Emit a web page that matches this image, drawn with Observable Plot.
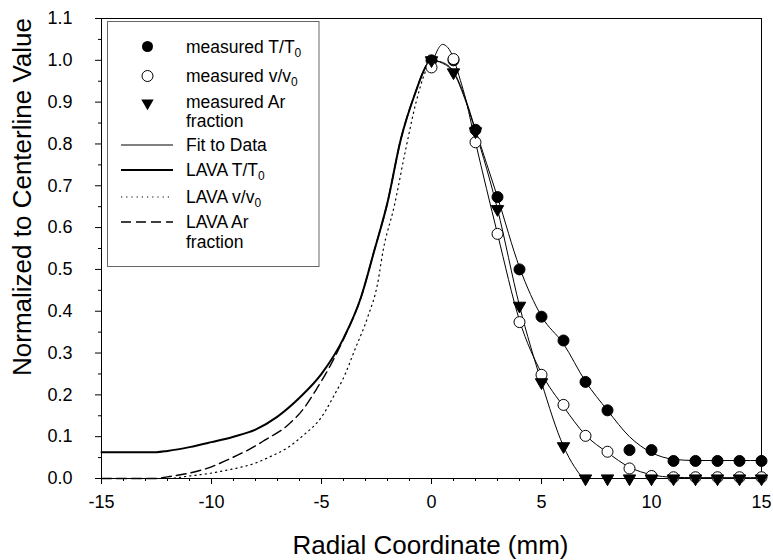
<!DOCTYPE html>
<html>
<head>
<meta charset="utf-8">
<script src="https://cdn.jsdelivr.net/npm/d3@7"></script>
<script src="https://cdn.jsdelivr.net/npm/@observablehq/plot@0.6"></script>
<style>
  html, body { margin: 0; padding: 0; background: #fff; }
  #chart { width: 773px; height: 560px; }
</style>
</head>
<body>
<div id="chart"></div>
<script>
// ---------------- data ----------------
const measX  = [0, 1, 2, 3, 4, 5, 6, 7, 8, 9, 10, 11, 12, 13, 14, 15];
const measT  = [1.0, 1.0, 0.834, 0.673, 0.50, 0.387, 0.330, 0.231, 0.163, 0.068, 0.068, 0.042, 0.042, 0.042, 0.042, 0.042];
const measV  = [0.983, 1.003, 0.804, 0.585, 0.374, 0.248, 0.176, 0.102, 0.064, 0.024, 0.006, 0.003, 0.003, 0.003, 0.003, 0.003];
const measAr = [1.0, 0.971, 0.83, 0.644, 0.413, 0.23, 0.077, 0.0, 0.0, 0.0, 0.0, 0.0, 0.0, 0.0, 0.0, 0.0];

// fits to data (thin lines)
const fitTX  = [0, 0.5, 1, 1.5, 2, 3, 4, 5, 6, 7, 8, 9, 10, 11, 12, 13, 14, 15];
const fitTY  = [1.0, 0.995, 0.973, 0.915, 0.834, 0.673, 0.505, 0.388, 0.322, 0.232, 0.163, 0.100, 0.062, 0.046, 0.043, 0.043, 0.043, 0.043];
const fitVX  = [0, 0.25, 0.5, 0.75, 1, 1.25, 1.5, 2, 3, 4, 5, 6, 7, 8, 9, 10, 11, 12, 13, 14, 15];
const fitVY  = [0.985, 1.022, 1.038, 1.030, 1.005, 0.963, 0.918, 0.804, 0.585, 0.378, 0.252, 0.172, 0.104, 0.062, 0.027, 0.009, 0.003, 0.002, 0.002, 0.002, 0.002];
const fitArX = [0, 0.5, 1, 1.5, 2, 3, 4, 5, 6, 6.5, 7, 8, 9, 10, 11, 12, 13, 14, 15];
const fitArY = [1.0, 0.993, 0.971, 0.91, 0.83, 0.644, 0.413, 0.23, 0.077, 0.028, 0.0, 0.0, 0.0, 0.0, 0.0, 0.0, 0.0, 0.0, 0.0];

// LAVA simulations (left half)
const lavaTX  = [-15, -12.5, -12, -11, -10, -9, -8, -7, -6, -5, -4, -3.2, -2.6, -2, -1.4, -0.75, -0.2, 0];
const lavaTY  = [0.063, 0.063, 0.066, 0.075, 0.087, 0.100, 0.117, 0.148, 0.193, 0.250, 0.335, 0.434, 0.545, 0.66, 0.81, 0.92, 0.99, 1.0];
const lavaVX  = [-15, -12, -11, -10, -9.3, -8, -7.3, -6.5, -5.9, -5, -4.3, -4.05, -3.5, -2.9, -2.45, -2.2, -1.7, -1.2, -0.7, -0.3, 0];
const lavaVY  = [0.0, 0.0, 0.006, 0.013, 0.020, 0.037, 0.053, 0.075, 0.100, 0.147, 0.211, 0.235, 0.306, 0.386, 0.466, 0.545, 0.65, 0.78, 0.90, 0.97, 1.0];
const lavaArX = [-15, -12.5, -12, -11, -10, -9.3, -8, -7.6, -6.5, -5.8, -5.2, -4.6, -4, -3.2, -2.6, -2, -1.4, -0.75, -0.2, 0];
const lavaArY = [0.0, 0.0, 0.004, 0.013, 0.028, 0.044, 0.078, 0.091, 0.129, 0.168, 0.216, 0.27, 0.333, 0.434, 0.545, 0.66, 0.81, 0.92, 0.99, 1.0];

// ticks
const xTicks = [-15, -10, -5, 0, 5, 10, 15];
const xTickLabels = ["-15", "-10", "-5", "0", "5", "10", "15"];
const xMinorTicks = d3.range(-15, 16, 1);
const yTicks = [0.0, 0.1, 0.2, 0.3, 0.4, 0.5, 0.6, 0.7, 0.8, 0.9, 1.0, 1.1];
const yTickLabels = ["0.0", "0.1", "0.2", "0.3", "0.4", "0.5", "0.6", "0.7", "0.8", "0.9", "1.0", "1.1"];
const yMinorTicks = [0.05, 0.15, 0.25, 0.35, 0.45, 0.55, 0.65, 0.75, 0.85, 0.95, 1.05];

const xTitle = "Radial Coordinate (mm)";
const yTitle = "Normalized to Centerline Value";

// ---------------- build tables ----------------
const toRows = (xs, ys) => xs.map((x, i) => ({x, y: ys[i]}));
const ptsT  = toRows(measX, measT);
const ptsV  = toRows(measX, measV);
const ptsAr = toRows(measX, measAr);
const fitT  = toRows(fitTX, fitTY);
const fitV  = toRows(fitVX, fitVY);
const fitAr = toRows(fitArX, fitArY);
const lavaT  = toRows(lavaTX, lavaTY);
const lavaV  = toRows(lavaVX, lavaVY);
const lavaAr = toRows(lavaArX, lavaArY);

const FONT = "'Liberation Sans', Arial, Helvetica, sans-serif";

const plot = Plot.plot({
  width: 773,
  height: 560,
  marginTop: 18,
  marginBottom: 82,
  marginLeft: 101,
  marginRight: 12,
  style: {fontFamily: FONT, fontSize: "18px", color: "#000", background: "#fff"},
  x: {domain: [-15, 15]},
  y: {domain: [0, 1.1]},
  marks: [
    Plot.frame({stroke: "#000", strokeWidth: 1}),
    // minor ticks
    Plot.axisX({ticks: xMinorTicks, tickSize: 3, text: null, label: null, stroke: "#000"}),
    Plot.axisY({ticks: yMinorTicks, tickSize: 3, text: null, label: null, stroke: "#000"}),
    // major ticks with labels
    Plot.axisX({ticks: xTicks, tickSize: 6, tickPadding: 11, label: null, stroke: "#000",
      tickFormat: d => xTickLabels[xTicks.indexOf(d)], fill: "#000"}),
    Plot.axisY({ticks: yTicks, tickSize: 6, tickPadding: 23, label: null, stroke: "#000",
      tickFormat: d => yTickLabels[yTicks.findIndex(t => Math.abs(t - d) < 1e-9)], fill: "#000"}),
    // LAVA curves
    Plot.line(lavaT,  {x: "x", y: "y", stroke: "#000", strokeWidth: 2, curve: "monotone-x"}),
    Plot.line(lavaV,  {x: "x", y: "y", stroke: "#000", strokeWidth: 1.2, strokeDasharray: "1.2,4", curve: "monotone-x"}),
    Plot.line(lavaAr, {x: "x", y: "y", stroke: "#000", strokeWidth: 1.4, strokeDasharray: "10,5", curve: "monotone-x"}),
    // fits
    Plot.line(fitT,  {x: "x", y: "y", stroke: "#000", strokeWidth: 1, curve: "monotone-x"}),
    Plot.line(fitV,  {x: "x", y: "y", stroke: "#000", strokeWidth: 1, curve: "monotone-x"}),
    Plot.line(fitAr, {x: "x", y: "y", stroke: "#000", strokeWidth: 1, curve: "monotone-x"}),
    // measured
    Plot.dot(ptsT,  {x: "x", y: "y", r: 5.5, fill: "#000", stroke: "#000", strokeWidth: 1}),
    Plot.dot(ptsV,  {x: "x", y: "y", r: 5.5, fill: "#fff", stroke: "#000", strokeWidth: 1}),
    Plot.dot(ptsAr, {x: "x", y: "y", r: 4.6, symbol: "triangle", rotate: 180, fill: "#000", stroke: "#000", strokeWidth: 1})
  ]
});

document.getElementById("chart").appendChild(plot);

// ---------------- titles & legend ----------------
const svg = d3.select(plot);
svg.append("text")
  .attr("x", 430.5).attr("y", 545)
  .attr("text-anchor", "middle").attr("dominant-baseline", "central")
  .style("font-family", FONT).style("font-size", "26px").attr("fill", "#000")
  .text(xTitle);
svg.append("text")
  .attr("transform", "translate(22,197) rotate(-90)")
  .attr("text-anchor", "middle").attr("dominant-baseline", "central")
  .style("font-family", FONT).style("font-size", "26px").attr("fill", "#000")
  .text(yTitle);

const lg = svg.append("g").style("font-family", FONT).style("font-size", "17.5px").attr("text-anchor", "start");
lg.append("rect").attr("x", 107.5).attr("y", 21.5).attr("width", 211.5).attr("height", 245)
  .attr("fill", "#fff").attr("stroke", "#666").attr("stroke-width", 1);

function label(y, main, sub) {
  const t = lg.append("text").attr("x", 186).attr("y", y + 6.3).attr("text-anchor", "start").attr("fill", "#000");
  t.append("tspan").text(main);
  if (sub) t.append("tspan").attr("font-size", "12px").attr("dy", 4).text(sub);
}
const symX = 147.5;
lg.append("circle").attr("cx", symX).attr("cy", 46.5).attr("r", 5.5).attr("fill", "#000");
label(46.5, "measured T/T", "0");
lg.append("circle").attr("cx", symX).attr("cy", 76).attr("r", 5.5).attr("fill", "#fff").attr("stroke", "#000");
label(76, "measured v/v", "0");
lg.append("path").attr("d", d3.symbol(d3.symbolTriangle, Math.PI * 4.6 * 4.6)()).attr("transform", `translate(${symX},103) rotate(180)`).attr("fill", "#000");
label(102, "measured Ar");
label(121, "fraction");
const line = (y, w, dash) => lg.append("line").attr("x1", 121).attr("x2", 173).attr("y1", y).attr("y2", y)
  .attr("stroke", "#000").attr("stroke-width", w).attr("stroke-dasharray", dash || null);
line(145, 1);
label(145, "Fit to Data");
line(170, 2);
label(170, "LAVA T/T", "0");
line(197, 1.2, "1.2,4");
label(197, "LAVA v/v", "0");
line(222, 1.4, "10,5");
label(222, "LAVA Ar");
label(242, "fraction");
</script>
</body>
</html>
